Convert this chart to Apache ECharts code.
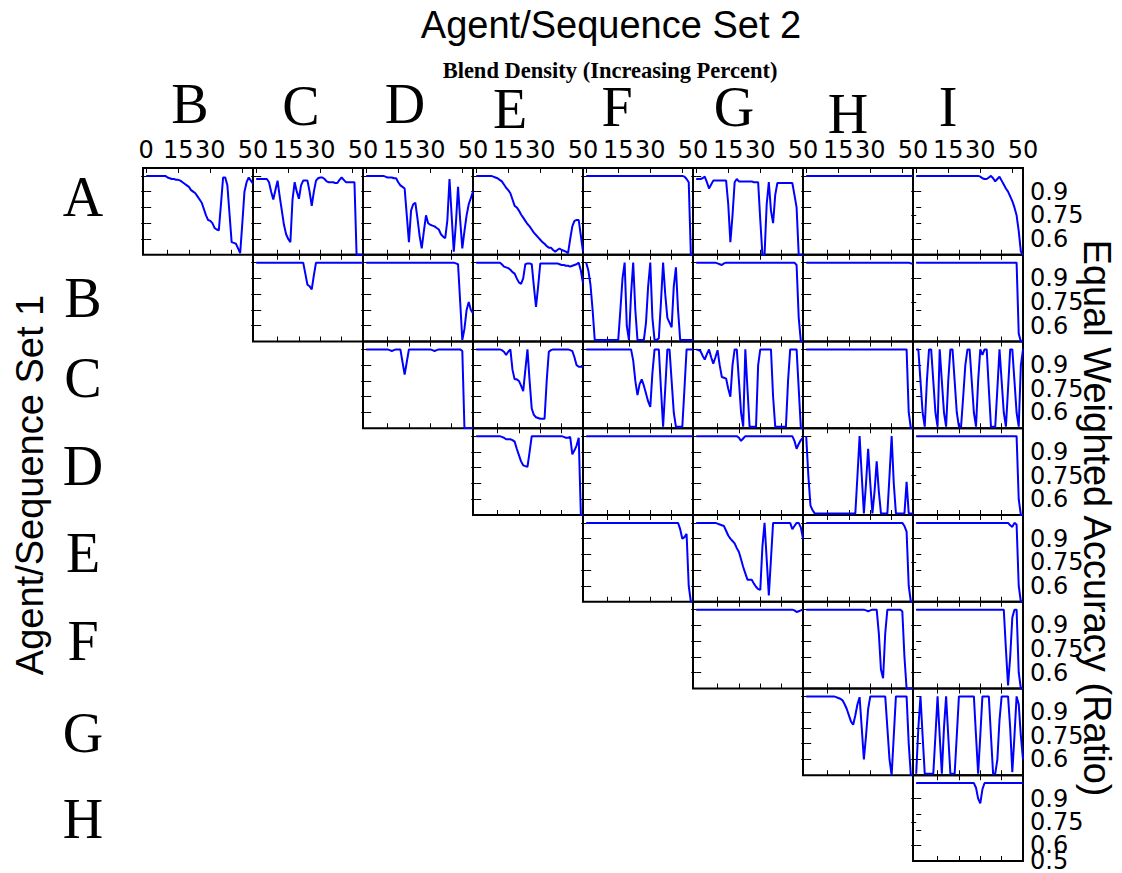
<!DOCTYPE html>
<html><head><meta charset="utf-8">
<script src="https://cdn.jsdelivr.net/npm/echarts@6/dist/echarts.min.js"></script>
<style>html,body{margin:0;padding:0;background:#fff}#c{width:1122px;height:873px}</style>
</head><body><div id="c"></div>
<script>
// ---------- data ----------
const BLEND = [0,1,2,3,4,5,6,7,8,9,10,11,12,13,14,15,16,17,18,19,20,21,22,23,24,25,26,27,28,29,30,31,32,33,34,35,36,37,38,39,40,41,42,43,44,45,46,47,48,49,50];
const COL_NAMES = ['B','C','D','E','F','G','H','I'];
const ROW_NAMES = ['A','B','C','D','E','F','G','H'];
const TOP_TICK_LABELS = [0,15,30,50];
const ACC_TICK_LABELS = [0.6,0.75,0.9];
const ACC_BOTTOM_LABEL = 0.5;

const A_B = [1,1,1,1,1,1,1,1,1,1, .99,.985,.98,.98,.975,.975,.97,.96,.95,.94, .93,.91,.9,.89,.87,.85,.83,.79,.75,.72, .715,.7,.67,.66,.655,.82,.99,.99,.94,.76, .58,.575,.57,.54,.51,.7,.9,.96,.99,.97, .95];
const A_C = [.98,.98,.98,.98,.98,.98,.96,.9,.85,.91, .97,.87,.78,.69,.63,.6,.58,.85,.96,.9, .855,.94,.97,.97,.97,.9,.81,.9,.97,.985, .99,.99,.98,.965,.96,.96,.96,.955,.955,.975, .99,.975,.96,.96,.96,.96,.96,.5,.5,.5, .5];
const A_D = [1,1,1,1,1,1,1,1,1,.995, .99,.99,.99,.985,.985,.96,.94,.93,.92,.75, .58,.78,.82,.83,.73,.62,.54,.65,.75,.7, .69,.685,.68,.67,.66,.63,.615,.605,.72,.98, .75,.52,.7,.93,.72,.54,.65,.75,.82,.86, .9];
const A_E = [1,1,1,1,1,1,1,1,.995,.99, .985,.975,.965,.945,.925,.91,.89,.85,.81,.8, .78,.755,.735,.715,.695,.68,.66,.64,.625,.61, .595,.58,.57,.555,.545,.545,.53,.52,.53,.54, .53,.525,.52,.51,.6,.68,.715,.72,.72,.62, .52];
const A_F = [1,1,1,1,1,1,1,1,1,1, 1,1,1,1,1,1,1,1,1,1, 1,1,1,1,1,1,1,1,1,1, 1,1,1,1,1,1,1,1,1,1, 1,1,1,1,1,1,.995,.98,.96,.5, .5];
const A_G = [.98,.98,.98,.985,.995,.96,.92,.945,.97,.97, .97,.97,.97,.97,.97,.82,.58,.75,.96,.98, .965,.965,.965,.965,.965,.965,.965,.96,.96,.96, .72,.5,.5,.82,.96,.78,.7,.88,.955,.955, .955,.955,.955,.955,.955,.955,.88,.8,.5,.5, .5];
const A_H = [1,1,1,1,1,1,1,1,1,1, 1,1,1,1,1,1,1,1,1,1, 1,1,1,1,1,1,1,1,1,1, 1,1,1,1,1,1,1,1,1,1, 1,1,1,1,1,1,1,1,1,1, 1];
const A_I = [1,1,1,1,1,1,1,1,1,1, 1,1,1,1,1,1,1,1,1,1, 1,1,1,1,1,1,1,1,1,1, .995,.985,.98,.98,.99,1,.985,.965,.98,.995, .97,.945,.92,.9,.87,.84,.8,.75,.65,.52, .5];

const B_C = [1,1,1,1,1,1,1,1,1,1, 1,1,1,1,1,1,1,1,1,1, 1,1,1,.93,.86,.85,.83,.92,1,1, 1,1,1,1,1,1,1,1,1,1, 1,1,1,1,1,1,1,1,1,1, 1];
const B_D = [1,1,1,1,1,1,1,1,1,1, 1,1,1,1,1,1,1,1,1,1, 1,1,1,1,1,1,1,1,1,1, 1,1,1,1,1,1,1,1,1,1, 1,1,.995,.99,.75,.51,.58,.7,.75,.7, .68];
const B_E = [1,1,1,1,1,1,1,1,1,1, 1,1,.99,.975,.97,.965,.955,.94,.93,.9, .875,.865,.9,.99,.995,.995,.99,.85,.72,.85, .995,.995,.995,.995,.995,.995,.995,.995,.995,.99, .985,.985,.98,.98,.975,.98,.985,.99,1,.95, .87];
const B_F = [1,.95,.86,.7,.51,.51,.51,.51,.51,.51, .51,.51,.51,.51,.51,.51,.7,.9,1,.6, .51,.8,1,.7,.51,.51,.51,.51,.62,.85, 1,.65,.51,.51,.52,.75,1,.8,.65,.62, .59,.85,.97,.7,.51,.51,.51,.51,.51,.51, .51];
const B_G = [1,1,1,1,1,1,1,1,1,1, .995,.99,.985,.995,1,1,1,1,1,1, 1,1,1,1,1,1,1,1,1,1, 1,1,1,1,1,1,1,1,1,1, 1,1,1,1,1,1,1,.985,.65,.5, .5];
const B_H = [1,1,1,1,1,1,1,1,1,1, 1,1,1,1,1,1,1,1,1,1, 1,1,1,1,1,1,1,1,1,1, 1,1,1,1,1,1,1,1,1,1, 1,1,1,1,1,1,1,1,1,.995, .995];
const B_I = [1,1,1,1,1,1,1,1,1,1, 1,1,1,1,1,1,1,1,1,1, 1,1,1,1,1,1,1,1,1,1, 1,1,1,1,1,1,1,1,1,1, 1,1,1,1,1,1,1,1,.55,.5, .5];

const C_D = [1,1,1,1,1,1,1,1,1,1, 1,.995,.99,.995,1,1,1,.92,.84,.92, 1,1,1,1,1,1,1,1,1,1, 1,.995,.99,.995,1,1,1,1,1,1, 1,1,1,1,1,.99,.5,.5,.5,.5, .5];
const C_E = [1,1,1,1,1,1,1,1,1,1, 1,1,.995,.985,.965,.985,1,.87,.81,.81, .8,.77,.735,.87,1,.8,.625,.585,.57,.565, .56,.56,.56,.8,.985,.995,1,1,1,1, 1,1,1,1,.995,.99,.95,.9,.89,.89, .89];
const C_F = [1,1,1,1,1,1,1,1,1,1, 1,1,1,1,1,1,1,1,1,1, 1,1,.93,.8,.71,.78,.81,.77,.72,.67, .635,.85,1,1,1,.75,.51,.75,1,1, .8,.6,.51,.51,.51,.51,.75,1,1,1, 1];
const C_G = [1,.995,.99,.96,.935,.97,1,.95,.91,.95, .995,.9,.825,.82,.815,.75,.7,.9,1,1, .8,.6,.51,1,.75,.51,.51,.51,.51,.9, 1,1,1,1,1,1,.7,.51,.51,.51, .51,.51,.51,.8,1,1,1,1,.75,.5, .5];
const C_H = [1,1,1,1,1,1,1,1,1,1, 1,1,1,1,1,1,1,1,1,1, 1,1,1,1,1,1,1,1,1,1, 1,1,1,1,1,1,1,1,1,1, 1,1,1,1,1,1,1,1,.6,.5, .5];
const C_I = [1,1,.8,.6,.51,.8,1,1,.8,.6, .51,1,.8,.6,.51,.8,1,1,.8,.6, .51,.51,.7,.9,1,1,.8,.6,.51,.8, 1,.965,1,1,.75,.51,.51,.51,.75,1, .8,.6,.51,.75,1,1,.8,.6,.51,.9, 1];

const D_E = [1,1,1,1,1,1,1,1,1,1, 1,1,.995,.99,.98,.98,.98,.975,.965,.92, .88,.84,.815,.81,.805,.9,1,1,1,1, 1,1,1,1,1,1,1,1,1,1, 1,.995,.99,.99,.995,.885,.91,.94,.99,.5, .5];
const D_F = [1,1,1,1,1,1,1,1,1,1, 1,1,1,1,1,1,1,1,1,1, 1,1,1,1,1,1,1,1,1,1, 1,1,1,1,1,1,1,1,1,1, 1,1,1,1,1,1,1,1,1,1, 1];
const D_G = [1,1,1,1,1,1,1,1,1,1, 1,1,1,1,1,1,1,1,1,1, .99,.97,.985,1,1,1,1,1,1,1, 1,1,1,1,1,1,1,1,1,1, 1,1,1,1,1,1,.97,.92,.95,.975, .99];
const D_H = [1,.75,.56,.53,.51,.51,.51,.51,.51,.51, .51,.51,.51,.51,.51,.51,.51,.51,.51,.51, .51,.51,.51,.51,.75,1,.75,.51,.7,.92, .7,.51,.65,.84,.65,.51,.51,.51,.51,.75, 1,.7,.51,.51,.51,.51,.51,.71,.51,.51, .51];
const D_I = [1,1,1,1,1,1,1,1,1,1, 1,1,1,1,1,1,1,1,1,1, 1,1,1,1,1,1,1,1,1,1, 1,1,1,1,1,1,1,1,1,1, 1,1,1,1,1,1,1,1,.6,.5, .5];

const E_F = [1,1,1,1,1,1,1,1,1,1, 1,1,1,1,1,1,1,1,1,1, 1,1,1,1,1,1,1,1,1,1, 1,1,1,1,1,1,1,1,1,1, 1,1,1,1,.96,.9,.91,.93,.6,.5, .5];
const E_G = [1,1,1,1,1,1,1,1,1,1, .995,.99,.985,.98,.95,.92,.9,.885,.87,.84, .815,.77,.72,.68,.64,.64,.64,.615,.595,.58, .575,.85,1,.77,.54,.77,1,1,1,1, 1,1,1,1,1,.96,.98,1,1,.97, .9];
const E_H = [1,1,1,1,1,1,1,1,1,1, 1,1,1,1,1,1,1,1,1,1, 1,1,1,1,1,1,1,1,1,1, 1,1,1,1,1,1,1,1,1,1, 1,1,1,1,1,1,.98,.945,.6,.5, .5];
const E_I = [1,1,1,1,1,1,1,1,1,1, 1,1,1,1,1,1,1,1,1,1, 1,1,1,1,1,1,1,1,1,1, 1,1,1,1,1,1,1,1,1,1, 1,1,1,1,.985,.975,1,.99,.6,.5, .5];

const F_G = [1,1,1,1,1,1,1,1,1,1, 1,1,1,1,1,1,1,1,1,1, 1,1,1,1,1,1,1,1,1,1, 1,1,1,1,1,1,1,1,1,1, 1,1,1,1,1,1,.995,.985,.99,.995, 1];
const F_H = [1,1,1,1,1,1,1,1,1,1, 1,1,1,1,1,1,1,1,1,1, 1,1,1,1,1,1,1,1,.995,.99, .995,1,1,1,.85,.62,.565,.85,1,1, 1,1,1,1,1,.99,.7,.5,.5,.5, .5];
const F_I = [1,1,1,1,1,1,1,1,1,1, 1,1,1,1,1,1,1,1,1,1, 1,1,1,1,1,1,1,1,1,1, 1,1,1,1,1,1,1,1,1,1, 1,1,.75,.52,.7,.95,1,1,.6,.5, .5];

const G_H = [1,1,1,1,1,1,1,1,1,1, 1,1,1,1,.995,.99,.985,.975,.95,.92, .88,.84,.82,.88,.95,.995,.8,.6,.75,.92, 1,1,1,1,1,1,1,1,.8,.6, .5,.75,1,1,1,1,1,1,.7,.5, .5];
const G_I = [.51,.8,1,.75,.51,.51,.51,.51,.51,.75, 1,.75,.51,.8,1,.75,.51,.51,.51,.75, 1,1,1,1,1,1,1,1,.75,.51, .75,1,1,1,1,.75,.51,.51,.6,.85, 1,1,1,1,.8,.52,.75,1,.95,.75, .6];

const H_I = [1,1,1,1,1,1,1,1,1,1, 1,1,1,1,1,1,1,1,1,1, 1,1,1,1,1,1,1,1,.97,.9, .87,.96,1,1,1,1,1,1,1,1, 1,1,1,1,1,1,1,1,1,1, 1];

const CELLS = [
  ['A','B',A_B],['A','C',A_C],['A','D',A_D],['A','E',A_E],['A','F',A_F],['A','G',A_G],['A','H',A_H],['A','I',A_I],
  ['B','C',B_C],['B','D',B_D],['B','E',B_E],['B','F',B_F],['B','G',B_G],['B','H',B_H],['B','I',B_I],
  ['C','D',C_D],['C','E',C_E],['C','F',C_F],['C','G',C_G],['C','H',C_H],['C','I',C_I],
  ['D','E',D_E],['D','F',D_F],['D','G',D_G],['D','H',D_H],['D','I',D_I],
  ['E','F',E_F],['E','G',E_G],['E','H',E_H],['E','I',E_I],
  ['F','G',F_G],['F','H',F_H],['F','I',F_I],
  ['G','H',G_H],['G','I',G_I],
  ['H','I',H_I]
];

// ---------- layout ----------
const X0 = 143, CW = 110, Y0 = 168, RH = 86.75;
const X_MIN = -1.5, X_MAX = 50, Y_MIN = 0.5, Y_MAX = 1.05;
const COL_LETTER_POS = [[190,104],[301,106],[405,104],[510,109],[617,107],[734,107],[848,114],[948,107]];
const ROW_LETTER_POS = [[83,197],[83,298],[83,378],[83,466],[83,553],[83,641],[83,733],[83,819]];
const LETTER_FONT = 'Liberation Serif';
const TICK_FONT = 'DejaVu Sans';
const TICK_SIZE = 24;
const LINE_BLUE = '#0000ff';

const grids = [], xAxes = [], yAxes = [], series = [];
const tickStyle = {color:'#000', width:1};
const fmtAcc = v => String(+(+v).toFixed(2));

function rightLabelAxis(g, labels, withTicks) {
  return {gridIndex: g, type: 'value', min: Y_MIN, max: Y_MAX, position: 'right',
    axisLine: {show: false}, splitLine: {show: false},
    axisTick: withTicks ? {show: true, inside: true, length: 5, customValues: withTicks, lineStyle: tickStyle} : {show: false},
    axisLabel: labels ? {show: true, customValues: labels, showMinLabel: true, showMaxLabel: true, hideOverlap: false,
      fontSize: TICK_SIZE, fontFamily: TICK_FONT, color: '#000', margin: 7, formatter: fmtAcc} : {show: false}};
}

CELLS.forEach(([rn, cn, vals], g) => {
  const ri = ROW_NAMES.indexOf(rn), ci = COL_NAMES.indexOf(cn);
  grids.push({left: X0 + CW*ci, top: Y0 + RH*ri, width: CW, height: RH,
    show: true, borderColor: '#000', borderWidth: 2, backgroundColor: 'transparent', containLabel: false});
  const lastCol = ci === COL_NAMES.length - 1;
  const lastRow = ri === ROW_NAMES.length - 1;
  // bottom x
  const xIdx = xAxes.length;
  xAxes.push({gridIndex: g, type: 'value', min: X_MIN, max: X_MAX, position: 'bottom',
    axisLine: {show: false}, splitLine: {show: false},
    axisTick: {show: true, inside: true, length: 5, customValues: [10,20,30,40], lineStyle: tickStyle},
    axisLabel: {show: false}});
  // top x
  const topLabels = ri === 0 ? (ci === 0 ? TOP_TICK_LABELS : TOP_TICK_LABELS.slice(1)) : null;
  xAxes.push({gridIndex: g, type: 'value', min: X_MIN, max: X_MAX, position: 'top',
    axisLine: {show: false}, splitLine: {show: false},
    axisTick: {show: true, inside: true, length: 5, customValues: ri === 0 ? [0,15,30,45] : [10,20,30,40], lineStyle: tickStyle},
    axisLabel: topLabels ? {show: true, customValues: topLabels, showMinLabel: true, showMaxLabel: true, hideOverlap: false,
      fontSize: TICK_SIZE, fontFamily: TICK_FONT, color: '#000', margin: 6,
      formatter: v => String(Math.round(v))} : {show: false}});
  // left y
  const yIdx = yAxes.length;
  yAxes.push({gridIndex: g, type: 'value', min: Y_MIN, max: Y_MAX, position: 'left',
    axisLine: {show: false}, splitLine: {show: false},
    axisTick: {show: true, inside: true, length: 5, customValues: [0.6,0.7,0.8,0.9,1.0], lineStyle: tickStyle},
    axisLabel: {show: false}});
  // right y (labels split over two axes so none is dropped for overlap)
  if (lastCol) {
    yAxes.push(rightLabelAxis(g, [ACC_TICK_LABELS[0], ACC_TICK_LABELS[2]], ACC_TICK_LABELS));
    yAxes.push(rightLabelAxis(g, lastRow ? [ACC_BOTTOM_LABEL, ACC_TICK_LABELS[1]] : [ACC_TICK_LABELS[1]], null));
  } else {
    yAxes.push(rightLabelAxis(g, null, [0.6,0.7,0.8,0.9,1.0]));
  }
  series.push({type: 'line', xAxisIndex: xIdx, yAxisIndex: yIdx,
    data: BLEND.map((x, i) => [x, vals[i]]),
    showSymbol: false, symbol: 'none', clip: true, silent: true,
    lineStyle: {color: LINE_BLUE, width: 2}});
});

const graphics = [
  {type: 'text', x: 611, y: 25, style: {text: 'Agent/Sequence Set 2', fontSize: 38, fontFamily: 'Liberation Sans', fill: '#000', align: 'center', verticalAlign: 'middle'}},
  {type: 'text', x: 610, y: 70, style: {text: 'Blend Density (Increasing Percent)', fontSize: 22.5, fontWeight: 'bold', fontFamily: 'Liberation Serif', fill: '#000', align: 'center', verticalAlign: 'middle', lineHeight: 18}},
  {type: 'text', x: 30, y: 485, rotation: Math.PI/2, style: {text: 'Agent/Sequence Set 1', fontSize: 38, fontFamily: 'Liberation Sans', fill: '#000', align: 'center', verticalAlign: 'middle'}},
  {type: 'text', x: 1097, y: 518, rotation: -Math.PI/2, style: {text: 'Equal Weighted Accuracy (Ratio)', fontSize: 38, fontFamily: 'Liberation Sans', fill: '#000', align: 'center', verticalAlign: 'middle'}}
];
COL_NAMES.forEach((n, i) => graphics.push({type: 'text', x: COL_LETTER_POS[i][0], y: COL_LETTER_POS[i][1],
  style: {text: n, fontSize: 56, lineHeight: 36, fontFamily: LETTER_FONT, fill: '#000', align: 'center', verticalAlign: 'middle'}}));
ROW_NAMES.forEach((n, i) => graphics.push({type: 'text', x: ROW_LETTER_POS[i][0], y: ROW_LETTER_POS[i][1],
  style: {text: n, fontSize: 56, lineHeight: 36, fontFamily: LETTER_FONT, fill: '#000', align: 'center', verticalAlign: 'middle'}}));

const chart = echarts.init(document.getElementById('c'), null, {renderer: 'svg', width: 1122, height: 873});
chart.setOption({
  animation: false,
  backgroundColor: '#fff',
  grid: grids, xAxis: xAxes, yAxis: yAxes, series: series,
  graphic: graphics
});
</script>
</body></html>
